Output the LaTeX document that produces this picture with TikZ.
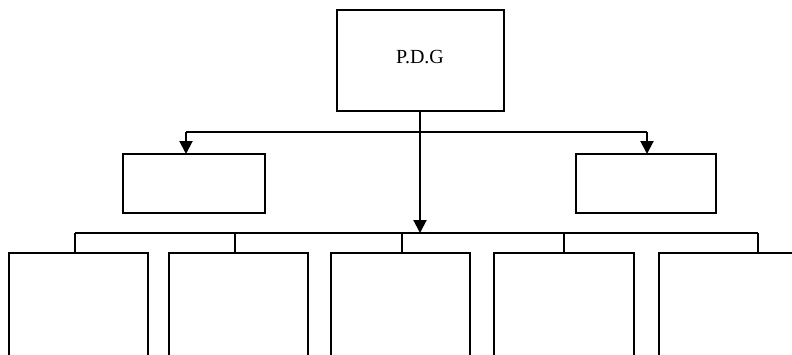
\documentclass[tikz,border=0pt]{standalone}
\usepackage{fontspec}
\setmainfont{Liberation Serif}
\usetikzlibrary{arrows.meta}
\begin{document}
\begin{tikzpicture}[x=1pt,y=-1pt,
  box/.style={draw, line width=2pt, inner sep=0pt, outer sep=0pt},
  link/.style={line width=2pt},
  tip/.style={line width=2pt, -{Triangle[width=13pt,length=13pt]}},
  every node/.style={font=\fontsize{20}{22}\selectfont}]
  \useasboundingbox (0,0) rectangle (792,354);
  \clip (0,0) rectangle (792,354);
  % top-level box
  \node[box, minimum width=167pt, minimum height=101pt] (pdg) at (420.5,60.5) {};
  \node at (420,57) {P.D.G};
  % second level
  \node[box, minimum width=142pt, minimum height=59pt] (left) at (194,183.5) {};
  \node[box, minimum width=140pt, minimum height=59pt] (right) at (646,183.5) {};
  % third level, running past the bottom edge
  \node[box, anchor=north west, minimum width=139pt, minimum height=150pt] (b1) at (9,253) {};
  \node[box, anchor=north west, minimum width=139pt, minimum height=150pt] (b2) at (169,253) {};
  \node[box, anchor=north west, minimum width=139pt, minimum height=150pt] (b3) at (331,253) {};
  \node[box, anchor=north west, minimum width=140pt, minimum height=150pt] (b4) at (494,253) {};
  \node[box, anchor=north west, minimum width=150pt, minimum height=150pt] (b5) at (659,253) {};
  % branch points
  \coordinate (top) at (420,111);
  \coordinate (hl) at (186,132);
  \coordinate (hr) at (647,132);
  \coordinate (bc) at (420,233);
  \coordinate (d1) at (75,233);
  \coordinate (d2) at (235,233);
  \coordinate (d3) at (402,233);
  \coordinate (d4) at (564,233);
  \coordinate (d5) at (758,233);
  % connectors
  \draw[link] (hl) -- (hr);
  \draw[tip] (hl) -- (hl |- left.north);
  \draw[tip] (hr) -- (hr |- right.north);
  \draw[tip] (top) -- (bc);
  \draw[link] (d1) -- (d5);
  \foreach \d/\b in {d1/b1,d2/b2,d3/b3,d4/b4,d5/b5}
    \draw[link] (\d) -- (\d |- \b.north);
\end{tikzpicture}
\end{document}
